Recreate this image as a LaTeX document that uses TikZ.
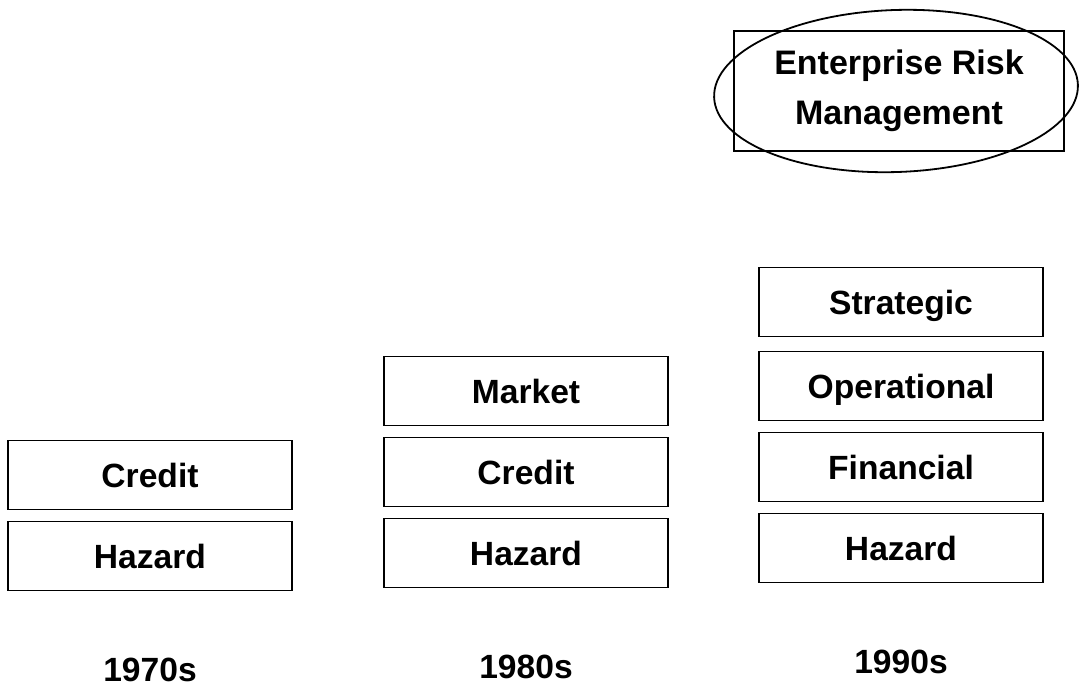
\documentclass[tikz,border=0pt]{standalone}
\usepackage{fontspec}
\setmainfont{Liberation Sans}
\usetikzlibrary{shapes,shapes.geometric,positioning}
\tikzset{riskbox/.style={draw, rectangle, line width=0.9pt, minimum width=142pt, minimum height=34.5pt, inner sep=2pt, text height=12pt, text depth=0pt, font=\bfseries\fontsize{16.8}{19}\selectfont}}
\tikzstyle{ermbox}=[draw, rectangle, line width=0.9pt, minimum width=165pt, minimum height=60pt, align=center, font=\bfseries\fontsize{17}{25}\selectfont]
\tikzstyle{decade}=[font=\bfseries\fontsize{16.8}{19}\selectfont]

\begin{document}
\begin{tikzpicture}[x=0.5pt, y=-0.5pt, node distance=40.5pt]
\useasboundingbox (0,0) rectangle (1079,687);
% 1970s
\node[riskbox] (H70) at (150,556) {Hazard};
\node[riskbox][above of =H70] (C70) {Credit};
% 1980s
\node[riskbox] (H80) at (526,553) {Hazard};
\node[riskbox][above of =H80] (C80) {Credit};
\node[riskbox][above of =C80] (M80) {Market};
% 1990s
\node[riskbox] (H90) at (901,548) {Hazard};
\node[riskbox][above of =H90] (F90) {Financial};
\node[riskbox][above of =F90] (O90) {Operational};
\node[riskbox][above of =O90, node distance=42pt] (S90) {Strategic};
\node[ermbox] (ERM) at (899,91) {Enterprise Risk\\Management};
\node[draw, ellipse, line width=0.9pt, minimum width=182pt, minimum height=81pt, inner sep=0pt, rotate=2] (ERMring) at (896,91) {};
% decades
\node[decade][below of =H70, node distance=57pt] (Y70) {1970s};
\node[decade][below of =H80, node distance=57pt] (Y80) {1980s};
\node[decade][below of =H90, node distance=57pt] (Y90) {1990s};
\end{tikzpicture}
\end{document}
